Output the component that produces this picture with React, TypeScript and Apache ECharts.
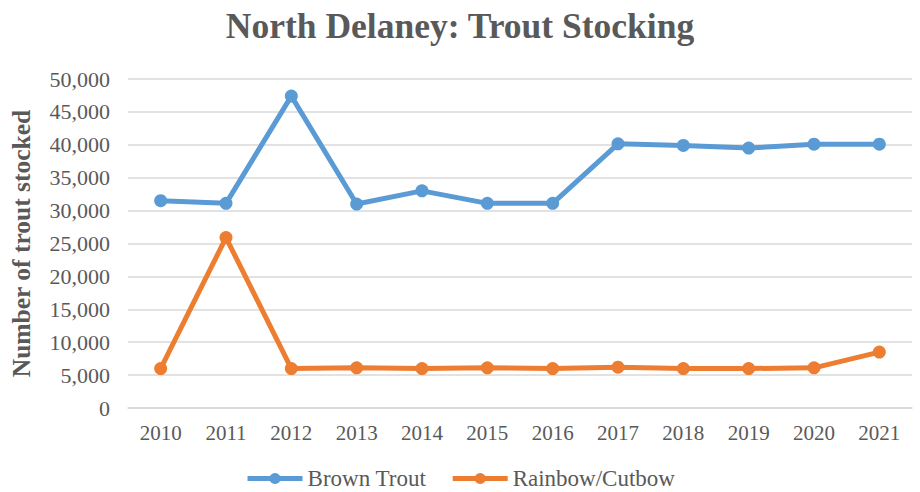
import React, { useEffect, useRef } from "react";
import * as echarts from "echarts";

const years = ["2010", "2011", "2012", "2013", "2014", "2015", "2016", "2017", "2018", "2019", "2020", "2021"];
const brownTrout = [31500, 31100, 47400, 31000, 33000, 31100, 31100, 40150, 39900, 39500, 40100, 40100];
const rainbowCutbow = [6000, 25900, 6000, 6100, 6000, 6100, 6000, 6200, 6000, 6000, 6100, 8500];

const serif = '"Liberation Serif", "Times New Roman", serif';
const textColor = "#595959";

export default function App() {
  const ref = useRef<HTMLDivElement>(null);
  useEffect(() => {
    if (!ref.current) return;
    const chart = echarts.init(ref.current, undefined, { renderer: "svg" });
    chart.setOption({
      animation: false,
      backgroundColor: "#ffffff",
      title: {
        text: "North Delaney: Trout Stocking",
        left: "center",
        top: 3,
        textStyle: { fontFamily: serif, fontSize: 35.5, fontWeight: "bold", color: textColor },
      },
      legend: {
        left: "center",
        top: 462,
        itemWidth: 55,
        itemHeight: 14,
        itemGap: 24,
        lineStyle: { width: 5 },
        textStyle: { fontFamily: serif, fontSize: 23, color: textColor },
        data: ["Brown Trout", "Rainbow/Cutbow"],
      },
      grid: { left: 128, right: 8, top: 79, bottom: 84, containLabel: false },
      xAxis: {
        type: "category",
        data: years,
        boundaryGap: true,
        axisLine: { lineStyle: { color: "#d9d9d9", width: 1.5 } },
        axisTick: { show: false },
        axisLabel: { fontFamily: serif, fontSize: 21, color: textColor, margin: 14 },
      },
      yAxis: {
        type: "value",
        min: 0,
        max: 50000,
        interval: 5000,
        name: "Number of trout stocked",
        nameLocation: "middle",
        nameGap: 94,
        nameTextStyle: { fontFamily: serif, fontSize: 25.5, fontWeight: "bold", color: textColor },
        axisLine: { show: false },
        axisTick: { show: false },
        splitLine: { lineStyle: { color: "#d9d9d9", width: 1.5 } },
        axisLabel: {
          fontFamily: serif,
          fontSize: 22,
          color: textColor,
          margin: 18,
          formatter: (v: number) => v.toLocaleString("en-US"),
        },
      },
      series: [
        {
          name: "Brown Trout",
          type: "line",
          data: brownTrout,
          symbol: "circle",
          symbolSize: 13,
          itemStyle: { color: "#5B9BD5" },
          lineStyle: { color: "#5B9BD5", width: 5 },
        },
        {
          name: "Rainbow/Cutbow",
          type: "line",
          data: rainbowCutbow,
          symbol: "circle",
          symbolSize: 13,
          itemStyle: { color: "#ED7D31" },
          lineStyle: { color: "#ED7D31", width: 5 },
        },
      ],
    });
    return () => chart.dispose();
  }, []);
  return (
    <div
      ref={ref}
      style={{ position: "fixed", left: 0, top: 0, width: 920, height: 492 }}
    />
  );
}
